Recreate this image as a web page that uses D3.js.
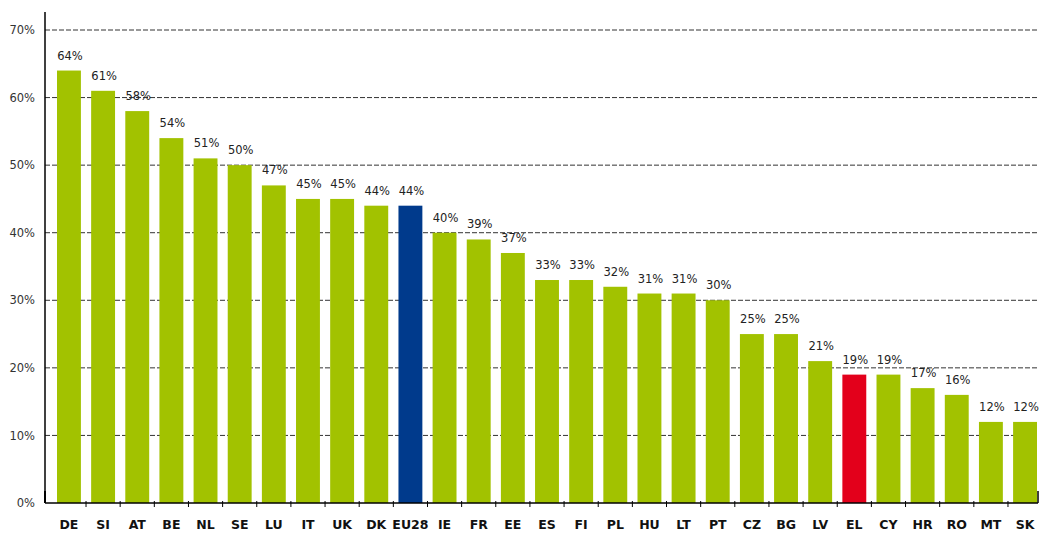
<!DOCTYPE html>
<html><head><meta charset="utf-8">
<script src="https://cdn.jsdelivr.net/npm/d3@7"></script>
<style>body{margin:0;background:#fff}svg{display:block}</style>
</head><body>
<svg id="c" width="1044" height="536"></svg>
<script>
const categories = ["DE","SI","AT","BE","NL","SE","LU","IT","UK","DK","EU28","IE","FR","EE","ES","FI","PL","HU","LT","PT","CZ","BG","LV","EL","CY","HR","RO","MT","SK"];
const values = [64,61,58,54,51,50,47,45,45,44,44,40,39,37,33,33,32,31,31,30,25,25,21,19,19,17,16,12,12];
const yTicks = [0,10,20,30,40,50,60,70];

const svg = d3.select("#c");
const x = d3.scaleBand().domain(categories).range([57,1037]).paddingInner(0.3).paddingOuter(0);
const y = d3.scaleLinear().domain([0,70]).range([503,30]);

const colorOf = c => c === "EU28" ? "#003a8c" : c === "EL" ? "#e3001b" : "#a2c200";
const FONT = "DejaVu Sans, Verdana, sans-serif";

// gridlines
svg.append("g").selectAll("line").data(yTicks.filter(t=>t>0)).join("line")
  .attr("x1",45).attr("x2",1038).attr("y1",d=>y(d)).attr("y2",d=>y(d))
  .attr("stroke","#333").attr("stroke-width",1).attr("stroke-dasharray","5,2");

// bars
svg.append("g").selectAll("rect").data(categories).join("rect")
  .attr("x",d=>x(d)).attr("width",x.bandwidth())
  .attr("y",(d,i)=>y(values[i])).attr("height",(d,i)=>y(0)-y(values[i]))
  .attr("fill",d=>colorOf(d));

// value labels
svg.append("g").selectAll("text").data(categories).join("text")
  .attr("x",d=>x(d)+x.bandwidth()/2+1).attr("y",(d,i)=>y(values[i])-11)
  .attr("text-anchor","middle").attr("font-family",FONT)
  .attr("font-size",11.5).attr("fill","#222")
  .text((d,i)=>values[i]+"%");

// y axis
const yAxis = d3.axisLeft(y).tickValues(yTicks).tickFormat(d=>d+"%").tickSize(0).tickPadding(10);
const gy = svg.append("g").attr("transform","translate(45,0)").call(yAxis);
gy.select(".domain").remove();
gy.selectAll("text").attr("font-family",FONT).attr("font-size",11.5).attr("fill","#333");
svg.append("line").attr("x1",45).attr("x2",45).attr("y1",12).attr("y2",y(0)).attr("stroke","#000").attr("stroke-width",1.5);

// x axis
const xAxis = d3.axisBottom(x).tickSize(0).tickPadding(17);
const gx = svg.append("g").attr("transform",`translate(0,${y(0)})`).call(xAxis);
gx.select(".domain").remove();
gx.selectAll("text").attr("font-family",FONT).attr("font-size",12.5).attr("font-weight","bold").attr("fill","#111");
svg.append("line").attr("x1",45).attr("x2",1038).attr("y1",y(0)).attr("y2",y(0)).attr("stroke","#000").attr("stroke-width",1.5);
// tick marks between bands
const gap = x.step()-x.bandwidth();
svg.append("g").selectAll("line").data(categories.slice(0,-1)).join("line")
  .attr("x1",d=>x(d)+x.bandwidth()+gap/2).attr("x2",d=>x(d)+x.bandwidth()+gap/2)
  .attr("y1",y(0)-2).attr("y2",y(0)+4).attr("stroke","#000").attr("stroke-width",1);
svg.append("line").attr("x1",1038).attr("x2",1038).attr("y1",y(0)-12).attr("y2",y(0)).attr("stroke","#000").attr("stroke-width",1.5);
svg.append("line").attr("x1",45).attr("x2",45).attr("y1",y(0)-12).attr("y2",y(0)).attr("stroke","#000").attr("stroke-width",2);
</script>
</body></html>
